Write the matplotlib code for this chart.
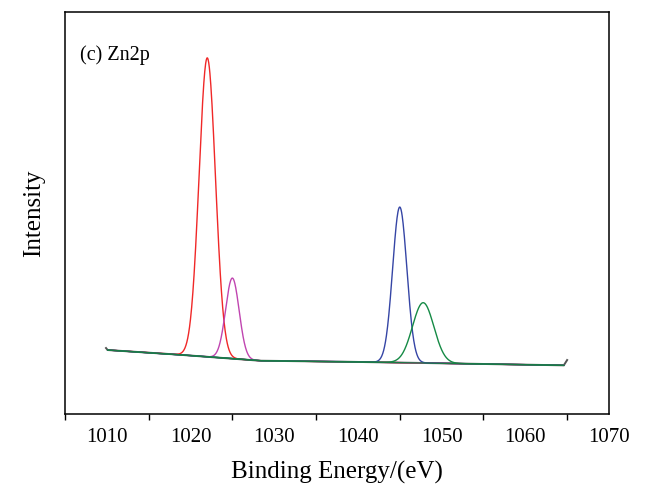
"""XPS Zn2p fitted components on a sloping background."""
import numpy as np
import matplotlib
matplotlib.use("Agg")
import matplotlib.pyplot as plt
from matplotlib.ticker import MultipleLocator, NullFormatter

plt.rcParams["font.family"] = ["Liberation Serif", "DejaVu Serif"]

# background (binding energy eV, intensity a.u.)
bg_energy = [1009.9, 1010.1, 1018.0, 1028.3, 1038.3, 1050.3, 1064.6, 1065.0]
bg_counts = [660, 640, 597, 533, 523, 507, 487, 540]

# fitted components: centre (eV), height above background, FWHM (eV)
peak_center = [1022.0, 1025.0, 1045.0, 1047.8]
peak_height = [2990, 806, 1556, 603]
peak_fwhm = [2.3, 1.9, 2.0, 3.0]
peak_color = ["#f02828", "#c045b0", "#3545a5", "#158a45"]

fig = plt.figure(figsize=(6.46, 4.84), dpi=100)
ax = fig.add_axes([0.1006, 0.1446, 0.8421, 0.8304])

E = np.linspace(1010.1, 1064.6, 1500)
base = np.interp(E, bg_energy, bg_counts)

ax.plot(bg_energy, bg_counts, color="#555555", lw=1.4)
for c, h, w, col in zip(peak_center, peak_height, peak_fwhm, peak_color):
    sigma = w / 2.3548
    y = base + h * np.exp(-0.5 * ((E - c) / sigma) ** 2)
    ax.plot(E, y, color=col, lw=1.0)
ax.plot(E, base, color="#1a7a45", lw=0.9)

ax.set_xlim(1005, 1070)
ax.set_ylim(0, 4020)
ax.xaxis.set_major_locator(MultipleLocator(10))
ax.xaxis.set_minor_locator(MultipleLocator(10, offset=5))
ax.xaxis.set_minor_formatter(NullFormatter())
ax.tick_params(axis="x", which="major", length=0, labelsize=15, pad=10)
ax.tick_params(axis="x", which="minor", length=4, width=1.0, direction="out")
ax.set_yticks([])
for s in ax.spines.values():
    s.set_linewidth(1.1)

ax.set_xlabel("Binding Energy/(eV)", fontsize=18, labelpad=10)
ax.set_ylabel("Intensity", fontsize=18, labelpad=14)
ax.text(0.028, 0.88, "(c) Zn2p", transform=ax.transAxes, fontsize=14.5)

fig.savefig("out.png", dpi=100)
